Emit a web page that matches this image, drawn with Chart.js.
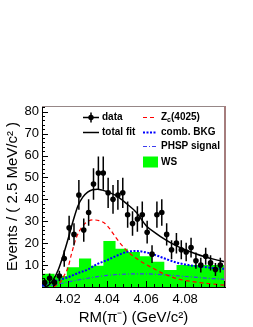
<!DOCTYPE html>
<html>
<head>
<meta charset="utf-8">
<script src="https://cdn.jsdelivr.net/npm/chart.js@4/dist/chart.umd.min.js"></script>
<style>
  html, body { margin: 0; padding: 0; background: #fff; }
  #wrap { width: 253px; height: 327px; }
</style>
</head>
<body>
<div id="wrap"><canvas id="rmChart" width="253" height="327"></canvas></div>
<script>
// bin centres of the data histogram (2.5 MeV bins)
const binCenters = [4.008, 4.0105, 4.013, 4.0155, 4.018, 4.0205, 4.023, 4.0255, 4.028, 4.0305,
    4.033, 4.0355, 4.038, 4.0405, 4.043, 4.0455, 4.048, 4.0505, 4.053, 4.0555,
    4.058, 4.0605, 4.063, 4.0655, 4.068, 4.0705, 4.073, 4.0755, 4.078, 4.0805,
    4.083, 4.0855, 4.088, 4.0905, 4.093, 4.0955, 4.098];
const dataCounts = [2, 4, 2, 5, 13, 27, 24, 42, 26, 34,
    47, 52, 52, 43, 40, 42, 43, 33, 29, 31,
    33, 25, 15, 33, 34, 24, 17, 20, 17, 16,
    18, 12, 10, 14, 11, 8, 10];
const dataErrors = [1.6, 2.2, 1.6, 2.4, 3.8, 5.5, 5.1, 6.8, 5.3, 6.1,
    7.2, 7.6, 7.6, 6.9, 6.6, 6.8, 6.9, 6.0, 5.6, 5.8,
    6.0, 5.2, 4.1, 6.0, 6.1, 5.1, 4.3, 4.7, 4.3, 4.2,
    4.5, 3.7, 3.4, 3.9, 3.5, 3.0, 3.4];

// wrong-sign histogram (wider bins)
const wsEdges = [4.0068, 4.01305, 4.0193, 4.02555, 4.0318, 4.03805, 4.0443, 4.05055,
    4.0568, 4.06305, 4.0693, 4.07555, 4.0818, 4.08805, 4.0943, 4.1005];
const wsCounts = [1.5, 6, 5, 9, 13, 9.7, 21, 17.5, 16, 14, 11.5, 7.8, 10, 10, 10];

// fit curves
const totalFitX = [4.008, 4.010, 4.0125, 4.015, 4.0175, 4.020, 4.0225, 4.025, 4.0275, 4.030,
    4.0325, 4.035, 4.0375, 4.040, 4.045, 4.050, 4.055, 4.060, 4.065, 4.070,
    4.075, 4.080, 4.085, 4.090, 4.095, 4.1004];
const totalFitY = [0, 0.8, 3.5, 8, 14.5, 22, 30, 37, 41, 43.3,
    44.4, 44.6, 44.2, 43.5, 41.5, 38, 34, 28, 24.5, 21.5,
    19, 17, 15.3, 13.8, 12.6, 11.5];

const zcX = [4.0125, 4.0158, 4.0184, 4.020, 4.0217, 4.024, 4.0266, 4.0291, 4.0327, 4.0358,
    4.0389, 4.0414, 4.0445, 4.0476, 4.0507, 4.0568, 4.063, 4.0696, 4.0758, 4.0876, 4.1004];
const zcY = [0, 2, 6, 9, 15, 22, 26.8, 29.3, 30.6, 30.3,
    29, 26.5, 22.5, 19, 16, 11.9, 8.8, 5.8, 3.8, 2, 0.8];

const bkgX = [4.0066, 4.0095, 4.015, 4.020, 4.025, 4.030, 4.035, 4.040, 4.045, 4.050,
    4.055, 4.060, 4.065, 4.070, 4.075, 4.080, 4.085, 4.090, 4.095, 4.1004];
const bkgY = [0.8, 1.5, 3.2, 4.5, 6.3, 8, 10.5, 12.3, 14.3, 16,
    16.4, 15.8, 14.5, 12.8, 11.3, 10.3, 9.6, 9.1, 8.6, 8.3];

const phspX = [4.0066, 4.010, 4.015, 4.020, 4.025, 4.030, 4.035, 4.040, 4.045, 4.050,
    4.055, 4.060, 4.065, 4.070, 4.075, 4.080, 4.085, 4.090, 4.095, 4.1004];
const phspY = [0, 0.5, 1.3, 2.3, 3.2, 4, 4.7, 5.3, 5.7, 5.9,
    6, 6, 5.8, 5.5, 5.2, 4.8, 4.5, 4.1, 3.8, 3.5];

const xTicks = [4.02, 4.04, 4.06, 4.08];
const yTicks = [10, 20, 30, 40, 50, 60, 70, 80];

const toPoints = (xs, ys) => xs.map((x, i) => ({ x: x, y: ys[i] }));
const wsPoints = wsEdges.map((x, i) => ({ x: x, y: wsCounts[Math.min(i, wsCounts.length - 1)] }));

const FONT = '"Liberation Sans", Arial, Helvetica, sans-serif';

// error bars on the data points
const errorBars = {
    id: 'errorBars',
    beforeDatasetDraw(chart, args) {
        if (args.index !== 0) return;
        const ctx = chart.ctx;
        const ys = chart.scales.y;
        const meta = chart.getDatasetMeta(0);
        ctx.save();
        ctx.strokeStyle = '#000';
        ctx.lineWidth = 1.5;
        ctx.beginPath();
        meta.data.forEach((pt, i) => {
            const v = dataCounts[i], e = dataErrors[i];
            ctx.moveTo(pt.x, ys.getPixelForValue(v + e));
            ctx.lineTo(pt.x, ys.getPixelForValue(Math.max(0, v - e)));
        });
        ctx.stroke();
        ctx.restore();
    }
};

// ROOT-like frame with inward ticks, plus the two column legend
const frameAndLegend = {
    id: 'frameAndLegend',
    afterDraw(chart) {
        const ctx = chart.ctx;
        const a = chart.chartArea;
        const xs = chart.scales.x, ys = chart.scales.y;
        ctx.save();
        // top and right frame
        ctx.strokeStyle = 'rgb(150,135,135)';
        ctx.lineWidth = 1;
        ctx.beginPath();
        ctx.moveTo(a.left, a.top + 0.5);
        ctx.lineTo(a.right, a.top + 0.5);
        ctx.stroke();
        ctx.strokeStyle = 'rgb(165,125,125)';
        ctx.lineWidth = 2;
        ctx.beginPath();
        ctx.moveTo(a.right, a.top);
        ctx.lineTo(a.right, a.bottom);
        ctx.stroke();

        // ticks
        ctx.strokeStyle = '#000';
        ctx.lineWidth = 1;
        ctx.beginPath();
        for (let v = 0; v <= 82; v += 2) {
            const p = Math.round(ys.getPixelForValue(v)) + 0.5;
            const len = v % 10 === 0 ? 6 : 3;
            ctx.moveTo(a.left, p);
            ctx.lineTo(a.left + len, p);
        }
        for (let k = 0; k <= 23; k++) {
            const v = 4.008 + k * 0.004;
            if (v > xs.max) break;
            const p = Math.round(xs.getPixelForValue(v)) + 0.5;
            const len = k % 5 === 3 ? 6 : 3;
            ctx.moveTo(p, a.bottom);
            ctx.lineTo(p, a.bottom - len);
        }
        ctx.stroke();

        // legend
        const lx1 = a.left + 41, lx2 = a.left + 101;
        const r1 = a.top + 11.5, r2 = a.top + 26.5, r3 = a.top + 40.5, r4 = a.top + 56;
        ctx.font = 'bold 10px ' + FONT;
        ctx.textBaseline = 'middle';
        ctx.fillStyle = '#000';

        // data
        ctx.lineWidth = 1.5;
        ctx.beginPath();
        ctx.moveTo(lx1, r1); ctx.lineTo(lx1 + 16, r1);
        ctx.moveTo(lx1 + 8, r1 - 5); ctx.lineTo(lx1 + 8, r1 + 5);
        ctx.stroke();
        ctx.beginPath();
        ctx.arc(lx1 + 8, r1, 2.7, 0, Math.PI * 2);
        ctx.fill();
        ctx.fillText('data', lx1 + 19, r1);

        // total fit
        ctx.beginPath();
        ctx.moveTo(lx1, r2); ctx.lineTo(lx1 + 16, r2);
        ctx.stroke();
        ctx.fillText('total fit', lx1 + 19, r2);

        // Zc(4025)
        ctx.strokeStyle = '#ff0000';
        ctx.lineWidth = 1.2;
        ctx.setLineDash([4, 3]);
        ctx.beginPath();
        ctx.moveTo(lx2, r1); ctx.lineTo(lx2 + 14, r1);
        ctx.stroke();
        let tx = lx2 + 18;
        ctx.fillText('Z', tx, r1);
        tx += ctx.measureText('Z').width;
        ctx.font = 'bold 7px ' + FONT;
        ctx.fillText('c', tx, r1 + 3);
        tx += ctx.measureText('c').width;
        ctx.font = 'bold 10px ' + FONT;
        ctx.fillText('(4025)', tx, r1);

        // comb. BKG
        ctx.strokeStyle = '#0000ff';
        ctx.lineWidth = 2;
        ctx.setLineDash([2, 1.5]);
        ctx.beginPath();
        ctx.moveTo(lx2, r2); ctx.lineTo(lx2 + 14, r2);
        ctx.stroke();
        ctx.fillText('comb. BKG', lx2 + 18, r2);

        // PHSP signal
        ctx.strokeStyle = 'rgb(60,60,240)';
        ctx.lineWidth = 1.2;
        ctx.setLineDash([4, 2, 1, 2]);
        ctx.beginPath();
        ctx.moveTo(lx2, r3); ctx.lineTo(lx2 + 14, r3);
        ctx.stroke();
        ctx.setLineDash([]);
        ctx.fillText('PHSP signal', lx2 + 18, r3);

        // WS
        ctx.fillStyle = '#00ff00';
        ctx.fillRect(lx2, r4 - 5.5, 15, 11);
        ctx.fillStyle = '#000';
        ctx.fillText('WS', lx2 + 18, r4);
        ctx.restore();
    }
};

const ctx = document.getElementById('rmChart').getContext('2d');
const chart = new Chart(ctx, {
    type: 'line',
    data: {
        datasets: [{
            label: 'data',
            data: toPoints(binCenters, dataCounts),
            showLine: false,
            pointStyle: 'circle',
            pointRadius: 2.8,
            backgroundColor: '#000',
            borderColor: '#000',
            borderWidth: 0
        }, {
            label: 'total fit',
            data: toPoints(totalFitX, totalFitY),
            borderColor: '#000',
            borderWidth: 1.5,
            pointRadius: 0,
            cubicInterpolationMode: 'monotone'
        }, {
            label: 'Zc(4025)',
            data: toPoints(zcX, zcY),
            borderColor: '#ff0000',
            borderWidth: 1.2,
            borderDash: [4, 3],
            pointRadius: 0,
            cubicInterpolationMode: 'monotone'
        }, {
            label: 'comb. BKG',
            data: toPoints(bkgX, bkgY),
            borderColor: '#0000ff',
            borderWidth: 2,
            borderDash: [2, 1.5],
            pointRadius: 0,
            cubicInterpolationMode: 'monotone'
        }, {
            label: 'PHSP signal',
            data: toPoints(phspX, phspY),
            borderColor: 'rgb(60,60,240)',
            borderWidth: 1.2,
            borderDash: [4, 2, 1, 2],
            pointRadius: 0,
            cubicInterpolationMode: 'monotone'
        }, {
            label: 'WS',
            data: wsPoints,
            stepped: 'after',
            borderColor: '#00ff00',
            borderWidth: 0,
            backgroundColor: '#00ff00',
            fill: 'origin',
            pointRadius: 0
        }]
    },
    options: {
        responsive: false,
        animation: false,
        layout: { padding: { top: 106, right: 28, left: 0, bottom: 0 } },
        plugins: {
            legend: { display: false },
            tooltip: { enabled: false }
        },
        scales: {
            x: {
                type: 'linear',
                min: 4.0066,
                max: 4.1004,
                grid: { display: false, drawTicks: false },
                border: { display: true, color: '#000', width: 1 },
                afterBuildTicks: (scale) => { scale.ticks = xTicks.map(v => ({ value: v })); },
                afterFit: (scale) => { scale.height = 40; },
                ticks: {
                    padding: 5,
                    color: '#000',
                    font: { family: FONT, size: 13 },
                    callback: (v) => v.toFixed(2)
                },
                title: {
                    display: true,
                    text: 'RM(\u03c0\u207b) (GeV/c\u00b2)',
                    color: '#000',
                    font: { family: FONT, size: 15 },
                    padding: { top: 0, bottom: 0 }
                }
            },
            y: {
                min: 0,
                max: 82.6,
                grid: { display: false, drawTicks: false },
                border: { display: true, color: '#000', width: 1 },
                afterBuildTicks: (scale) => { scale.ticks = yTicks.map(v => ({ value: v })); },
                afterFit: (scale) => { scale.width = 42; },
                ticks: {
                    padding: 3,
                    color: '#000',
                    font: { family: FONT, size: 13 }
                },
                title: {
                    display: true,
                    text: 'Events / ( 2.5 MeV/c\u00b2 )',
                    color: '#000',
                    font: { family: FONT, size: 15 },
                    padding: { top: 4, bottom: 0 }
                }
            }
        }
    },
    plugins: [errorBars, frameAndLegend]
});
</script>
</body>
</html>
